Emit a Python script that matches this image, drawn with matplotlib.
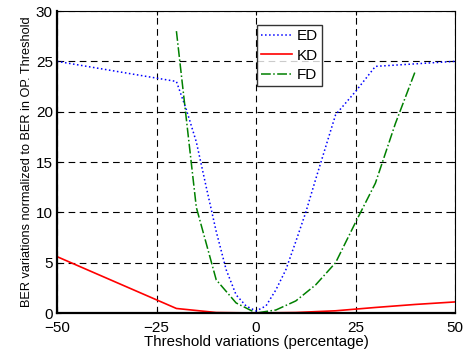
import numpy as np
import matplotlib
matplotlib.use("Agg")
import matplotlib.pyplot as plt

plt.rcParams['font.family'] = ['Liberation Sans', 'DejaVu Sans']

# threshold variation (%) and normalized BER for each detector
ed_x = [-50, -20, -17.5, -15, -12.5, -10, -7.5, -5, -2.5, 0,
        2.5, 5, 7.5, 10, 12.5, 15, 17.5, 20, 25, 30, 50]
ed_y = [25, 23, 20.2, 17, 12.5, 8.1, 4.3, 1.8, 0.7, 0.2,
        0.7, 2.3, 4.3, 7.1, 10, 13.3, 16.5, 19.7, 22, 24.5, 25]

kd_x = [-50, -20, -10, 0, 10, 20, 30, 40, 50]
kd_y = [5.6, 0.45, 0.05, 0.0, 0.05, 0.22, 0.55, 0.85, 1.1]

fd_x = [-20, -15, -10, -5, 0, 5, 10, 15, 20, 25, 30, 35, 40]
fd_y = [28, 10.5, 3.3, 1.0, 0.0, 0.3, 1.2, 2.8, 5.0, 9.0, 12.9, 18.8, 24]

fig = plt.figure(figsize=(4.7, 3.55), dpi=100)
ax = fig.add_axes([0.1213, 0.1183, 0.8468, 0.8507])

ax.plot(ed_x, ed_y, ':', color='blue', lw=1.1, label='ED')
ax.plot(kd_x, kd_y, '-', color='red', lw=1.2, label='KD')
ax.plot(fd_x, fd_y, '-.', color=(0, 0.5, 0), lw=1.1, label='FD')

ax.set_xlim(-50, 50)
ax.set_ylim(0, 30)
ax.set_xticks([-50, -25, 0, 25, 50])
ax.set_yticks(np.arange(0, 31, 5))
ax.grid(True, color='black', linestyle=(0, (6, 4)), lw=0.8)
ax.tick_params(direction='in', length=3, top=True, right=True,
               labelsize=11)
ax.tick_params(axis='x', pad=6)
ax.tick_params(axis='y', pad=3)
for side in ['left', 'bottom']:
    ax.spines[side].set_linewidth(1.6)
for side in ['top', 'right']:
    ax.spines[side].set_linewidth(0.8)

ax.set_xlabel('Threshold variations (percentage)', fontsize=10.8, labelpad=0)
ax.set_ylabel('BER variations normalized to BER in OP. Threshold',
              fontsize=9.2, labelpad=2)

leg = ax.legend(loc='upper left', bbox_to_anchor=(0.502, 0.955), fontsize=11,
                frameon=True, fancybox=False, edgecolor='black',
                borderpad=0.3, labelspacing=0.35, handlelength=2.0,
                handletextpad=0.3, borderaxespad=0)
leg.get_frame().set_linewidth(1.0)

fig.savefig('out.png', dpi=100)
